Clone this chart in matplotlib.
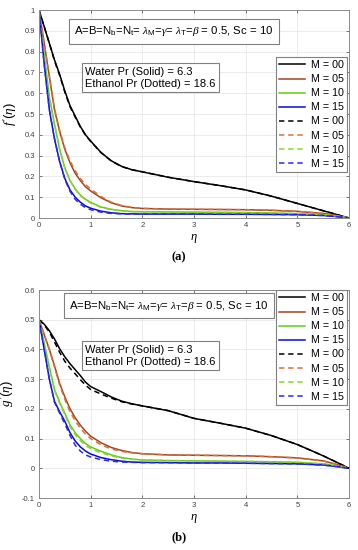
import matplotlib
matplotlib.use('Agg')
import matplotlib.pyplot as plt

plt.rcParams['font.family'] = ['Liberation Sans', 'DejaVu Sans']
plt.rcParams['mathtext.fontset'] = 'custom'
plt.rcParams['mathtext.rm'] = 'Liberation Sans'
plt.rcParams['mathtext.it'] = 'Liberation Serif:italic'

eta = [0, 0.1, 0.2, 0.3, 0.4, 0.5, 0.6, 0.7, 0.8, 0.9, 1.0, 1.2, 1.4, 1.6,
       1.8, 2.0, 2.5, 3.0, 3.5, 4.0, 4.5, 5.0, 5.5, 5.8, 6.0]

# (a) f'(eta), water (solid)
f_w00 = [1, 0.92, 0.84, 0.76, 0.69, 0.61, 0.54, 0.49, 0.44, 0.40, 0.37, 0.315, 0.275, 0.248,
         0.232, 0.222, 0.196, 0.175, 0.156, 0.135, 0.105, 0.07, 0.035, 0.014, 0]
f_w05 = [1, 0.84, 0.68, 0.52, 0.415, 0.33, 0.265, 0.215, 0.18, 0.15, 0.13, 0.097, 0.073, 0.058,
         0.05, 0.046, 0.043, 0.042, 0.041, 0.04, 0.037, 0.032, 0.022, 0.01, 0]
f_w10 = [1, 0.78, 0.58, 0.45, 0.33, 0.24, 0.18, 0.14, 0.11, 0.09, 0.075, 0.053, 0.042, 0.035,
         0.031, 0.03, 0.029, 0.028, 0.027, 0.026, 0.024, 0.021, 0.016, 0.008, 0]
f_w15 = [1, 0.74, 0.52, 0.38, 0.27, 0.19, 0.135, 0.1, 0.076, 0.058, 0.047, 0.033, 0.025, 0.021,
         0.02, 0.019, 0.019, 0.019, 0.018, 0.018, 0.017, 0.016, 0.012, 0.006, 0]
# (a) f'(eta), ethanol (dashed)
f_e00 = [1, 0.92, 0.84, 0.755, 0.685, 0.605, 0.535, 0.485, 0.437, 0.398, 0.368, 0.314, 0.274, 0.247,
         0.232, 0.222, 0.196, 0.175, 0.156, 0.135, 0.105, 0.07, 0.035, 0.014, 0]
f_e05 = [1, 0.84, 0.68, 0.525, 0.42, 0.338, 0.275, 0.228, 0.19, 0.16, 0.14, 0.103, 0.076, 0.06,
         0.051, 0.046, 0.043, 0.042, 0.041, 0.04, 0.037, 0.032, 0.022, 0.01, 0]
f_e10 = [1, 0.78, 0.58, 0.45, 0.33, 0.24, 0.18, 0.138, 0.107, 0.087, 0.072, 0.051, 0.04, 0.034,
         0.031, 0.03, 0.029, 0.028, 0.027, 0.026, 0.024, 0.021, 0.016, 0.008, 0]
f_e15 = [1, 0.74, 0.52, 0.38, 0.27, 0.185, 0.128, 0.09, 0.066, 0.05, 0.04, 0.028, 0.022, 0.02,
         0.019, 0.019, 0.019, 0.019, 0.018, 0.018, 0.017, 0.016, 0.012, 0.006, 0]

# (b) g'(eta), water (solid)
g_w00 = [0.5, 0.485, 0.463, 0.435, 0.402, 0.375, 0.352, 0.332, 0.312, 0.29, 0.275, 0.258, 0.24, 0.226,
         0.217, 0.21, 0.194, 0.168, 0.152, 0.135, 0.11, 0.08, 0.042, 0.017, 0]
g_w05 = [0.5, 0.45, 0.4, 0.345, 0.285, 0.24, 0.2, 0.17, 0.145, 0.125, 0.108, 0.086, 0.07, 0.06,
         0.053, 0.049, 0.045, 0.044, 0.043, 0.042, 0.039, 0.035, 0.025, 0.011, 0]
g_w10 = [0.5, 0.42, 0.34, 0.265, 0.222, 0.185, 0.146, 0.12, 0.1, 0.083, 0.072, 0.057, 0.045, 0.036,
         0.031, 0.028, 0.026, 0.025, 0.024, 0.023, 0.022, 0.02, 0.015, 0.007, 0]
g_w15 = [0.5, 0.4, 0.3, 0.225, 0.19, 0.158, 0.12, 0.092, 0.072, 0.058, 0.048, 0.036, 0.029, 0.024,
         0.021, 0.02, 0.019, 0.018, 0.018, 0.017, 0.016, 0.015, 0.011, 0.005, 0]
# (b) g'(eta), ethanol (dashed)
g_e00 = [0.5, 0.483, 0.458, 0.425, 0.39, 0.36, 0.337, 0.318, 0.298, 0.28, 0.265, 0.25, 0.236, 0.224,
         0.216, 0.21, 0.194, 0.168, 0.152, 0.135, 0.11, 0.08, 0.042, 0.017, 0]
g_e05 = [0.5, 0.45, 0.4, 0.34, 0.28, 0.232, 0.19, 0.16, 0.135, 0.115, 0.1, 0.079, 0.065, 0.057,
         0.052, 0.049, 0.045, 0.044, 0.043, 0.042, 0.039, 0.035, 0.025, 0.011, 0]
g_e10 = [0.5, 0.42, 0.34, 0.262, 0.218, 0.18, 0.14, 0.113, 0.093, 0.077, 0.066, 0.052, 0.042, 0.034,
         0.03, 0.028, 0.026, 0.025, 0.024, 0.023, 0.022, 0.02, 0.015, 0.007, 0]
g_e15 = [0.5, 0.4, 0.3, 0.222, 0.185, 0.15, 0.11, 0.078, 0.058, 0.045, 0.038, 0.029, 0.024, 0.021,
         0.02, 0.019, 0.019, 0.018, 0.018, 0.017, 0.016, 0.015, 0.011, 0.005, 0]

labels = ['M = 00', 'M = 05', 'M = 10', 'M = 15']
solid_colors = ['#000000', '#a0461e', '#5fcc1a', '#0a0ad2']
dash_colors = ['#000000', '#d9703a', '#8fd42a', '#2a2af0']

params = (r'A=B=N$_{\rm b}$=N$_{\rm t}$= $\lambda_{\rm M}$=$\gamma$= '
          r'$\lambda_{\rm T}$=$\beta$ = 0.5, Sc = 10')
fluids = 'Water Pr (Solid) = 6.3\nEthanol Pr (Dotted) = 18.6'

box = dict(boxstyle='square,pad=0.3', facecolor='white', edgecolor='#808080', linewidth=0.8)


def panel(ax, solid, dashed, ylim, yticks, ylabel, txt_xy, leg_top):
    for y, c, lab in zip(solid, solid_colors, labels):
        ax.plot(eta, y, color=c, lw=1.1, label=lab)
    for y, c, lab in zip(dashed, dash_colors, labels):
        ax.plot(eta, y, color=c, lw=1.1, ls=(0, (3.5, 2.5)), label=lab)
    ax.set_xlim(0, 6)
    ax.set_ylim(*ylim)
    ax.set_xticks(range(7))
    ax.set_yticks(yticks)
    ax.set_yticklabels(['%g' % t for t in yticks])
    ax.grid(color='#e3e3e3', lw=0.5)
    ax.tick_params(direction='in', length=2.5, width=0.5, labelsize=5.5,
                   colors='#404040', top=True, right=True, pad=3)
    for s in ax.spines.values():
        s.set_color('#8a8a8a')
        s.set_linewidth(0.7)
    ax.set_xlabel(r'$\eta$', fontsize=9, labelpad=2)
    ax.set_ylabel(ylabel, fontsize=9.5, labelpad=4)
    (x1, y1), (x2, y2) = txt_xy
    ax.text(x1, y1, params, transform=ax.transAxes, ha='center', va='center',
            fontsize=8.2, bbox=dict(box, boxstyle='square,pad=0.5'))
    ax.text(x2, y2, fluids, transform=ax.transAxes, ha='left', va='center',
            fontsize=8, linespacing=1.25, bbox=box)
    leg = ax.legend(loc='upper right', bbox_to_anchor=(0.9935, leg_top), fontsize=7.7,
                    fancybox=False, framealpha=1, edgecolor='#808080', borderpad=0.3,
                    labelspacing=0.38, handlelength=2.4, handletextpad=0.6,
                    borderaxespad=0)
    leg.get_frame().set_linewidth(0.8)


fig = plt.figure(figsize=(3.58, 5.5), dpi=100)
ax1 = fig.add_axes([0.109, 0.6036, 0.866, 0.3782])
ax2 = fig.add_axes([0.109, 0.0945, 0.866, 0.3782])

panel(ax1, [f_w00, f_w05, f_w10, f_w15], [f_e00, f_e05, f_e10, f_e15], (0, 1),
      [round(0.1 * i, 1) for i in range(11)], r"$f\,'(\eta)$",
      ((0.435, 0.897), (0.148, 0.675)), 0.774)
panel(ax2, [g_w00, g_w05, g_w10, g_w15], [g_e00, g_e05, g_e10, g_e15], (-0.1, 0.6),
      [round(-0.1 + 0.1 * i, 1) for i in range(8)], r"$g\,'(\eta)$",
      ((0.419, 0.925), (0.148, 0.685)), 1.0)

fig.text(0.5, 0.533, '(a)', ha='center', va='center', fontsize=9,
         fontweight='bold', family='Liberation Serif')
fig.text(0.5, 0.0236, '(b)', ha='center', va='center', fontsize=9,
         fontweight='bold', family='Liberation Serif')

fig.savefig('out.png', dpi=100)
